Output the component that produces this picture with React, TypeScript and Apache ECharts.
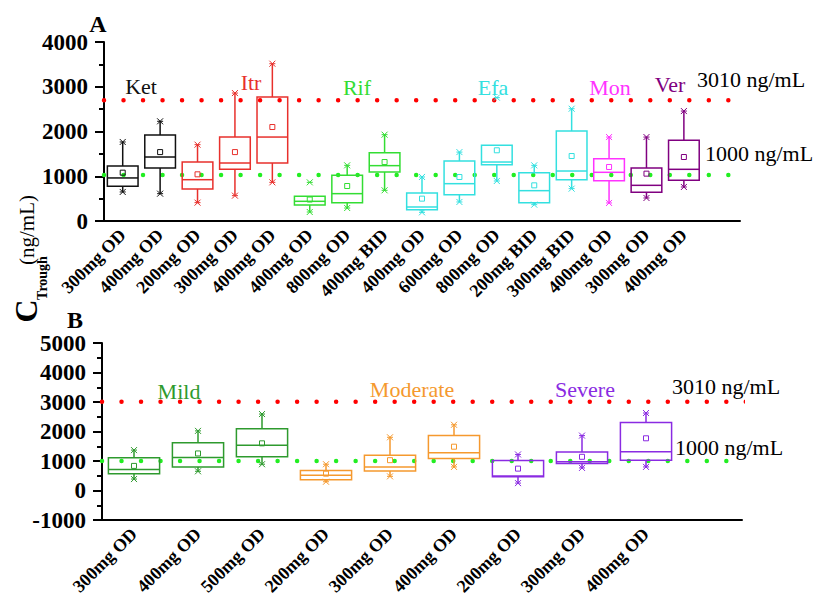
import React, { useEffect, useRef } from "react";
import * as echarts from "echarts";

// ---------- Panel A data ----------
const categoriesA = ["300mg OD", "400mg OD", "200mg OD", "300mg OD", "400mg OD", "400mg OD", "800mg OD", "400mg BID", "400mg OD", "600mg OD", "800mg OD", "200mg BID", "300mg BID", "400mg OD", "300mg OD", "400mg OD", ""];
const drugsA = ["Ket", "Ket", "Itr", "Itr", "Itr", "Rif", "Rif", "Rif", "Efa", "Efa", "Efa", "Efa", "Efa", "Mon", "Ver", "Ver"];
const lowA = [649, 611, 410, 566, 864, 201, 290, 686, 194, 425, 894, 365, 723, 403, 514, 760];
const q1A = [775, 1184, 715, 1155, 1296, 358, 410, 1095, 253, 588, 1259, 410, 923, 902, 640, 909];
const medA = [962, 1430, 923, 1296, 1876, 440, 611, 1237, 313, 834, 1318, 678, 1117, 1088, 797, 1155];
const q3A = [1230, 1922, 1318, 1876, 2771, 551, 1020, 1527, 626, 1341, 1691, 1080, 2010, 1393, 1184, 1803];
const highA = [1766, 2228, 1706, 2859, 3515, 551, 1244, 1929, 984, 1540, 1691, 1244, 2509, 1876, 1876, 2457];
const meanA = [1080, 1540, 1043, 1540, 2100, 480, 782, 1318, 500, 983, 1580, 797, 1452, 1207, 1058, 1430];
const markTopA = [1766, 2228, 1706, 2859, 3515, 864, 1244, 1929, 984, 1540, 2757, 1244, 2509, 1876, 1876, 2457];
const markBotA = [649, 611, 410, 566, 864, 201, 290, 686, 194, 425, 894, 365, 723, 403, 514, 760];
const refA = [2700, 1030];
const refEndA = [1.069, 1.013];

// ---------- Panel B data ----------
const categoriesB = ["300mg OD", "400mg OD", "500mg OD", "200mg OD", "300mg OD", "400mg OD", "200mg OD", "300mg OD", "400mg OD", ""];
const groupsB = ["Mild", "Mild", "Mild", "Moderate", "Moderate", "Moderate", "Severe", "Severe", "Severe"];
const lowB = [388, 651, 891, 297, 480, 799, 251, 765, 799];
const q1B = [571, 799, 1142, 365, 662, 1085, 468, 914, 1028];
const medB = [708, 1119, 1530, 514, 799, 1279, 491, 971, 1313];
const q3B = [1108, 1621, 2090, 674, 1199, 1861, 1016, 1302, 2307];
const highB = [1370, 2021, 2592, 891, 1804, 2227, 1222, 1861, 2627];
const meanB = [834, 1256, 1599, 571, 1028, 1485, 742, 1142, 1770];
const refB = [3010, 1000];
const refEndB = [1.064, 0.978];

const refLabels = ["3010 ng/mL", "1000 ng/mL"];

const groupColors: Record<string, string> = {
  Ket: "#111111",
  Itr: "#e8302c",
  Rif: "#33dd33",
  Efa: "#33e0e0",
  Mon: "#ff33ff",
  Ver: "#800080",
  Mild: "#2e9a2e",
  Moderate: "#f5992e",
  Severe: "#8a2be2",
};
const refColors = ["#ff0000", "#22ee22"];

const SERIF = "Liberation Serif";

function makeRender(colors: string[], boxFrac: number) {
  return (params: any, api: any) => {
    const i = api.value(0);
    const c = colors[params.dataIndex];
    const band = api.size([1, 0])[0];
    const hw = (band * boxFrac) / 2;
    const p = api.coord([i, api.value(1)]);
    const x = p[0];
    const yLo = p[1];
    const yQ1 = api.coord([i, api.value(2)])[1];
    const yMed = api.coord([i, api.value(3)])[1];
    const yQ3 = api.coord([i, api.value(4)])[1];
    const yHi = api.coord([i, api.value(5)])[1];
    const yMean = api.coord([i, api.value(6)])[1];
    const yTop = api.coord([i, api.value(7)])[1];
    const yBot = api.coord([i, api.value(8)])[1];
    const ls = { stroke: c, lineWidth: 1.5, fill: "none" };
    const thin = { stroke: c, lineWidth: 1, fill: "none" };
    const cross = (yy: number) => [
      { type: "line", shape: { x1: x - 3, y1: yy - 3, x2: x + 3, y2: yy + 3 }, style: thin },
      { type: "line", shape: { x1: x - 3, y1: yy + 3, x2: x + 3, y2: yy - 3 }, style: thin },
      { type: "line", shape: { x1: x - 3, y1: yy, x2: x + 3, y2: yy }, style: thin },
    ];
    return {
      type: "group",
      children: [
        { type: "line", shape: { x1: x, y1: yHi, x2: x, y2: yQ3 }, style: ls },
        { type: "line", shape: { x1: x, y1: yQ1, x2: x, y2: yLo }, style: ls },
        { type: "rect", shape: { x: x - hw, y: yQ3, width: 2 * hw, height: yQ1 - yQ3 }, style: ls },
        { type: "line", shape: { x1: x - hw, y1: yMed, x2: x + hw, y2: yMed }, style: ls },
        { type: "rect", shape: { x: x - 2.5, y: yMean - 2.5, width: 5, height: 5 }, style: thin },
        ...cross(yTop),
        ...cross(yBot),
      ],
    };
  };
}

function txt(text: string, x: number, y: number, color: string, size = 22, weight: any = "normal", rotation = 0) {
  return {
    type: "text",
    x,
    y,
    rotation,
    style: {
      text,
      fill: color,
      fontSize: size,
      fontFamily: SERIF,
      fontWeight: weight,
      align: "center",
      verticalAlign: "middle",
    },
  };
}

export default function App() {
  const ref = useRef<HTMLDivElement>(null);
  useEffect(() => {
    document.body.style.margin = "0";
    const chart = echarts.init(ref.current!, null, { renderer: "svg" });

    const dataA = drugsA.map((_, i) => [i, lowA[i], q1A[i], medA[i], q3A[i], highA[i], meanA[i], markTopA[i], markBotA[i]]);
    const dataB = groupsB.map((_, i) => [i, lowB[i], q1B[i], medB[i], q3B[i], highB[i], meanB[i], highB[i], lowB[i]]);
    const colorsA = drugsA.map((d) => groupColors[d]);
    const colorsB = groupsB.map((d) => groupColors[d]);

    const axisLineStyle = { show: true, onZero: false, lineStyle: { color: "#000", width: 2 } };
    const xLabel = { interval: 0, rotate: 45, fontFamily: SERIF, fontWeight: "bold", fontSize: 18, color: "#000", margin: 11 };
    const yLabel = { fontFamily: SERIF, fontWeight: "bold", fontSize: 23, color: "#000", margin: 16, formatter: (v: number) => String(v) };

    const refSeries = (vals: number[], ends: number[], xi: number, yi: number) =>
      vals.map((v, k) => ({
        type: "line",
        xAxisIndex: xi,
        yAxisIndex: yi,
        data: [[0, v], [ends[k], v]],
        symbol: "none",
        clip: false,
        silent: true,
        z: 1,
        lineStyle: { color: refColors[k], width: 4.5, type: [0.01, 19.5], cap: "round" },
      }));

    const groupLabelsA = [
      ["Ket", 141, 86], ["Itr", 251, 82], ["Rif", 357, 87], ["Efa", 493, 87], ["Mon", 610, 87], ["Ver", 670, 84],
    ] as [string, number, number][];
    const groupLabelsB = [["Mild", 179, 391], ["Moderate", 412, 389], ["Severe", 585, 389]] as [string, number, number][];

    chart.setOption({
      animation: false,
      grid: [
        { left: 104, top: 42, width: 636, height: 179 },
        { left: 102, top: 343, width: 640, height: 177 },
      ],
      xAxis: [
        {
          type: "category", gridIndex: 0, data: categoriesA, boundaryGap: true,
          axisLine: axisLineStyle,
          axisTick: { alignWithLabel: true, interval: 0, length: 9, lineStyle: { color: "#000", width: 2 } },
          axisLabel: xLabel,
        },
        { type: "value", gridIndex: 0, min: 0, max: 1, show: false },
        {
          type: "category", gridIndex: 1, data: categoriesB, boundaryGap: true,
          axisLine: axisLineStyle,
          axisTick: { alignWithLabel: true, interval: 0, length: 9, lineStyle: { color: "#000", width: 2 } },
          axisLabel: xLabel,
        },
        { type: "value", gridIndex: 1, min: 0, max: 1, show: false },
      ],
      yAxis: [
        {
          type: "value", gridIndex: 0, min: 0, max: 4000, interval: 1000,
          axisLine: axisLineStyle,
          axisTick: { show: true, length: 9, lineStyle: { color: "#000", width: 2 } },
          minorTick: { show: true, splitNumber: 2, length: 5, lineStyle: { color: "#000", width: 2 } },
          splitLine: { show: false },
          axisLabel: yLabel,
        },
        {
          type: "value", gridIndex: 1, min: -1000, max: 5000, interval: 1000,
          axisLine: axisLineStyle,
          axisTick: { show: true, length: 9, lineStyle: { color: "#000", width: 2 } },
          minorTick: { show: true, splitNumber: 2, length: 5, lineStyle: { color: "#000", width: 2 } },
          splitLine: { show: false },
          axisLabel: yLabel,
        },
      ],
      series: [
        ...refSeries(refA, refEndA, 1, 0),
        ...refSeries(refB, refEndB, 3, 1),
        {
          type: "custom", xAxisIndex: 0, yAxisIndex: 0, data: dataA, z: 3,
          renderItem: makeRender(colorsA, 0.82),
          encode: { x: 0, y: [1, 2, 3, 4, 5, 6, 7, 8] },
        },
        {
          type: "custom", xAxisIndex: 2, yAxisIndex: 1, data: dataB, z: 3,
          renderItem: makeRender(colorsB, 0.8),
          encode: { x: 0, y: [1, 2, 3, 4, 5, 6, 7, 8] },
        },
      ],
      graphic: [
        txt("A", 98, 24, "#000", 24, "bold"),
        txt("B", 75, 320, "#000", 24, "bold"),
        ...groupLabelsA.map(([t, x, y]) => txt(t, x, y, groupColors[t])),
        ...groupLabelsB.map(([t, x, y]) => txt(t, x, y, groupColors[t])),
        txt(refLabels[0], 751, 79, "#000", 22),
        txt(refLabels[1], 759, 153, "#000", 22),
        txt(refLabels[0], 726, 386, "#000", 22),
        txt(refLabels[1], 729, 447, "#000", 22),
        txt("C", 26, 311, "#000", 32, "bold", Math.PI / 2),
        txt("Trough", 42, 278, "#000", 14, "bold", Math.PI / 2),
        txt("(ng/mL)", 27, 230, "#000", 21, "normal", Math.PI / 2),
      ],
    });
    return () => chart.dispose();
  }, []);
  return <div ref={ref} style={{ width: 816, height: 603 }} />;
}
